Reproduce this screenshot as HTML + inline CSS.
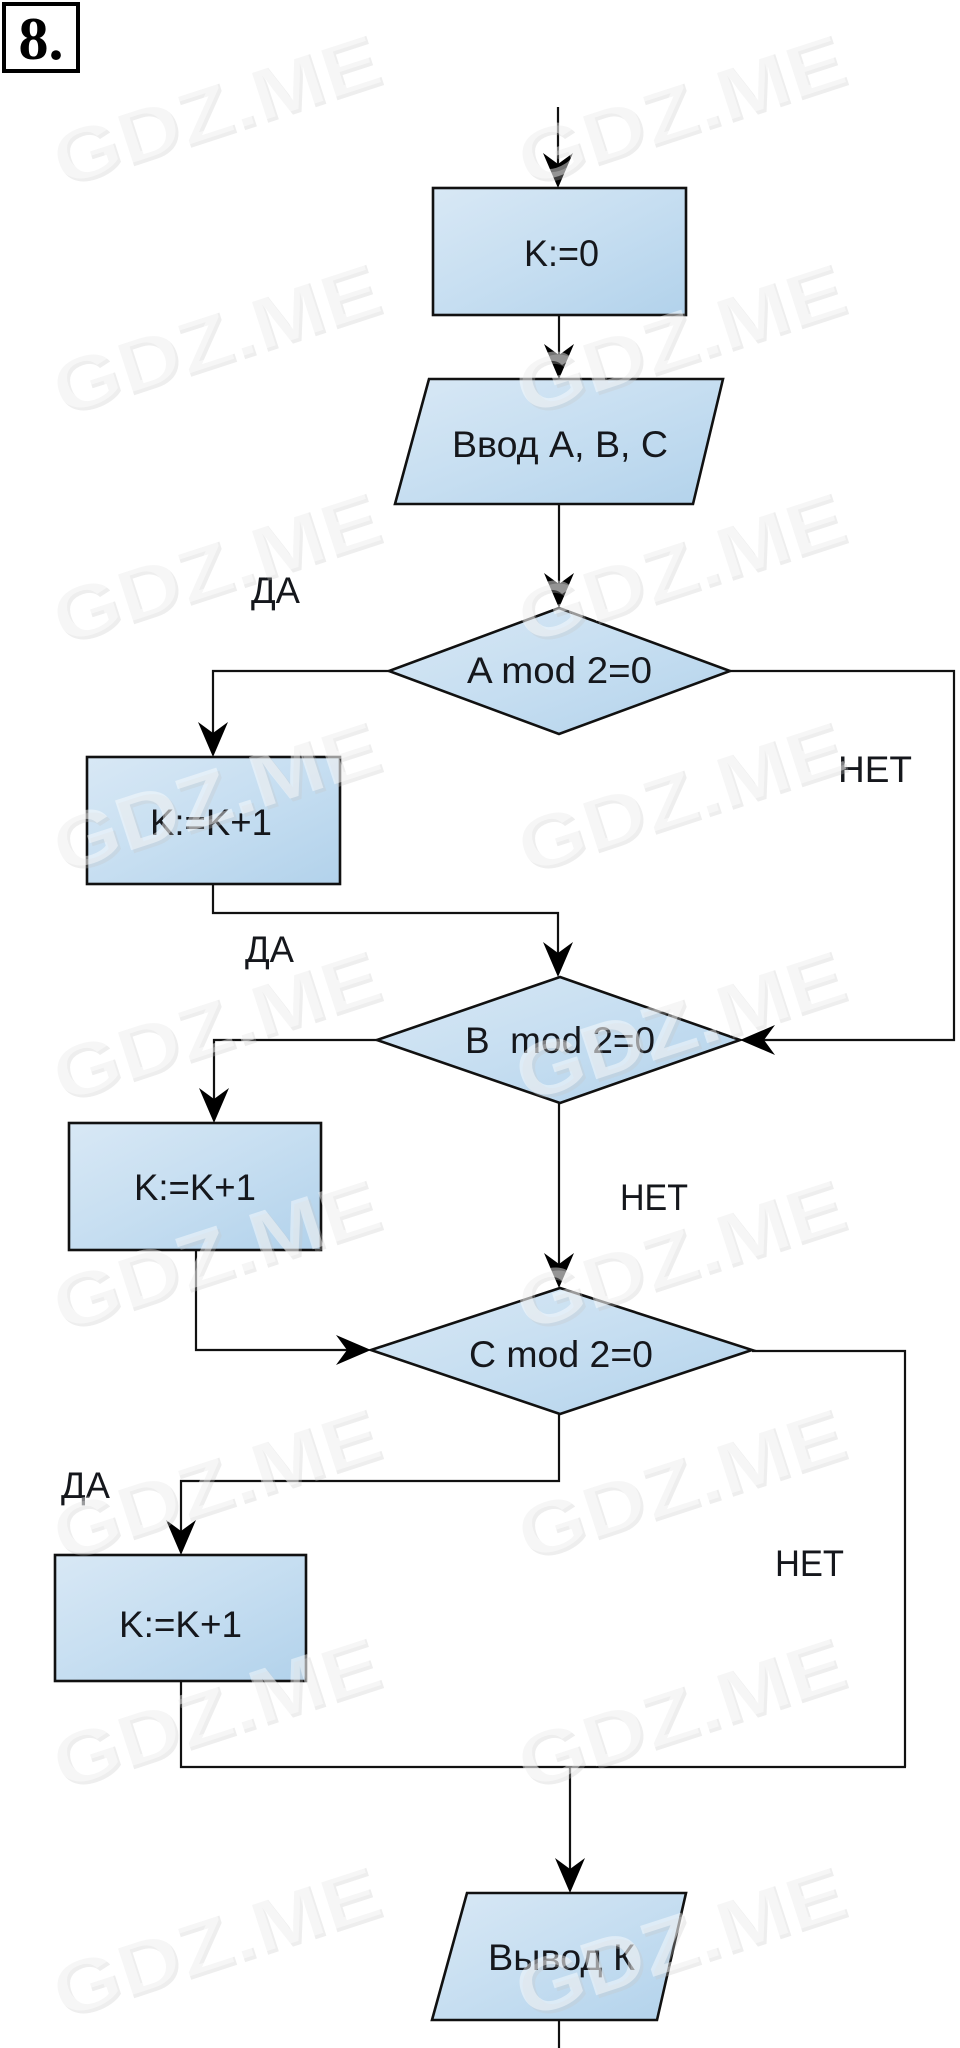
<!DOCTYPE html>
<html>
<head>
<meta charset="utf-8">
<style>
  html,body{margin:0;padding:0;background:#fff;}
  body{width:960px;height:2048px;overflow:hidden;}
  svg{display:block;}
  .t{font-family:"Liberation Sans","DejaVu Sans",sans-serif;fill:#15171c;font-size:37px;}
  .ws{font-family:"Liberation Sans",sans-serif;font-weight:bold;font-size:76px;fill:rgba(200,200,200,0.3);}
  .wm{font-family:"Liberation Sans",sans-serif;font-weight:bold;font-size:76px;fill:rgba(255,255,255,0.45);}
</style>
</head>
<body>
<svg width="960" height="2048" viewBox="0 0 960 2048" xmlns="http://www.w3.org/2000/svg">
  <defs>
    <linearGradient id="g" x1="0" y1="0" x2="1" y2="1">
      <stop offset="0" stop-color="#d8e8f5"/>
      <stop offset="0.5" stop-color="#c6def1"/>
      <stop offset="1" stop-color="#b2d2eb"/>
    </linearGradient>
    <path id="ah" d="M0,0 L-15,-35 L0,-24 L15,-35 Z" fill="#000"/>
    <text id="w" textLength="340" lengthAdjust="spacingAndGlyphs">GDZ.ME</text>
  </defs>

  <rect x="4" y="4" width="74" height="67" fill="#fff" stroke="#000" stroke-width="4"/>
  <text x="41" y="59" text-anchor="middle" font-family="Liberation Serif, serif" font-weight="bold" font-size="60" fill="#000">8.</text>

  <g stroke="#111" stroke-width="2.2" fill="none">
    <line x1="558" y1="107" x2="558" y2="180"/>
    <line x1="559" y1="315" x2="559" y2="370"/>
    <line x1="559" y1="504" x2="559" y2="600"/>
    <polyline points="389,671 213,671 213,748"/>
    <polyline points="730,671 954,671 954,1040 750,1040"/>
    <polyline points="213,884 213,913 558,913 558,968"/>
    <polyline points="377,1040 214,1040 214,1114"/>
    <line x1="559" y1="1103" x2="559" y2="1279"/>
    <polyline points="196,1250 196,1350 362,1350"/>
    <polyline points="752,1351 905,1351 905,1767"/>
    <polyline points="559,1414 559,1481 181,1481 181,1546"/>
    <polyline points="181,1681 181,1767 906,1767"/>
    <line x1="570" y1="1767" x2="570" y2="1884"/>
    <line x1="559" y1="2020" x2="559" y2="2048"/>
  </g>

  <g stroke="#111" stroke-width="2.6" fill="url(#g)">
    <rect x="433" y="188" width="253" height="127"/>
    <polygon points="429,379 723,379 693,504 395,504"/>
    <polygon points="559,608 730,671 559,734 389,671"/>
    <rect x="87" y="757" width="253" height="127"/>
    <polygon points="560,977 740,1040 560,1103 377,1040"/>
    <rect x="69" y="1123" width="252" height="127"/>
    <polygon points="560,1288 752,1350 560,1414 371,1350"/>
    <rect x="55" y="1555" width="251" height="126"/>
    <polygon points="467,1893 686,1893 657,2020 432,2020"/>
  </g>

  <use href="#ah" transform="translate(558,188)"/>
  <use href="#ah" transform="translate(559,379)"/>
  <use href="#ah" transform="translate(559,608)"/>
  <use href="#ah" transform="translate(213,757)"/>
  <use href="#ah" transform="translate(740,1040) rotate(90)"/>
  <use href="#ah" transform="translate(558,977)"/>
  <use href="#ah" transform="translate(214,1123)"/>
  <use href="#ah" transform="translate(559,1288)"/>
  <use href="#ah" transform="translate(371,1350) rotate(-90)"/>
  <use href="#ah" transform="translate(181,1555)"/>
  <use href="#ah" transform="translate(570,1893)"/>

  <text class="t" x="524" y="266" textLength="75" lengthAdjust="spacingAndGlyphs">K:=0</text>
  <text class="t" x="452" y="457" textLength="216" lengthAdjust="spacingAndGlyphs">Ввод A, B, C</text>
  <text class="t" x="467" y="683" textLength="185" lengthAdjust="spacingAndGlyphs">A mod 2=0</text>
  <text class="t" x="150" y="835" textLength="122" lengthAdjust="spacingAndGlyphs">K:=K+1</text>
  <text class="t" x="465" y="1053" textLength="190" lengthAdjust="spacingAndGlyphs" xml:space="preserve">B  mod 2=0</text>
  <text class="t" x="134" y="1200" textLength="122" lengthAdjust="spacingAndGlyphs">K:=K+1</text>
  <text class="t" x="469" y="1367" textLength="184" lengthAdjust="spacingAndGlyphs">C mod 2=0</text>
  <text class="t" x="119" y="1637" textLength="123" lengthAdjust="spacingAndGlyphs">K:=K+1</text>
  <text class="t" x="488" y="1970" textLength="147" lengthAdjust="spacingAndGlyphs">Вывод К</text>

  <text class="t" x="251" y="603" textLength="49" lengthAdjust="spacingAndGlyphs">ДА</text>
  <text class="t" x="838" y="782" textLength="74" lengthAdjust="spacingAndGlyphs">НЕТ</text>
  <text class="t" x="245" y="962" textLength="49" lengthAdjust="spacingAndGlyphs">ДА</text>
  <text class="t" x="620" y="1210" textLength="68" lengthAdjust="spacingAndGlyphs">НЕТ</text>
  <text class="t" x="61" y="1498" textLength="49" lengthAdjust="spacingAndGlyphs">ДА</text>
  <text class="t" x="775" y="1576" textLength="69" lengthAdjust="spacingAndGlyphs">НЕТ</text>

  <g class="ws">
    <use href="#w" transform="translate(64,189) rotate(-18)"/>
    <use href="#w" transform="translate(529,189) rotate(-18)"/>
    <use href="#w" transform="translate(64,418) rotate(-18)"/>
    <use href="#w" transform="translate(529,418) rotate(-18)"/>
    <use href="#w" transform="translate(64,647) rotate(-18)"/>
    <use href="#w" transform="translate(529,647) rotate(-18)"/>
    <use href="#w" transform="translate(64,876) rotate(-18)"/>
    <use href="#w" transform="translate(529,876) rotate(-18)"/>
    <use href="#w" transform="translate(64,1105) rotate(-18)"/>
    <use href="#w" transform="translate(529,1105) rotate(-18)"/>
    <use href="#w" transform="translate(64,1334) rotate(-18)"/>
    <use href="#w" transform="translate(529,1334) rotate(-18)"/>
    <use href="#w" transform="translate(64,1563) rotate(-18)"/>
    <use href="#w" transform="translate(529,1563) rotate(-18)"/>
    <use href="#w" transform="translate(64,1792) rotate(-18)"/>
    <use href="#w" transform="translate(529,1792) rotate(-18)"/>
    <use href="#w" transform="translate(64,2021) rotate(-18)"/>
    <use href="#w" transform="translate(529,2021) rotate(-18)"/>
  </g>
  <g class="wm">
    <use href="#w" transform="translate(61,186) rotate(-18)"/>
    <use href="#w" transform="translate(526,186) rotate(-18)"/>
    <use href="#w" transform="translate(61,415) rotate(-18)"/>
    <use href="#w" transform="translate(526,415) rotate(-18)"/>
    <use href="#w" transform="translate(61,644) rotate(-18)"/>
    <use href="#w" transform="translate(526,644) rotate(-18)"/>
    <use href="#w" transform="translate(61,873) rotate(-18)"/>
    <use href="#w" transform="translate(526,873) rotate(-18)"/>
    <use href="#w" transform="translate(61,1102) rotate(-18)"/>
    <use href="#w" transform="translate(526,1102) rotate(-18)"/>
    <use href="#w" transform="translate(61,1331) rotate(-18)"/>
    <use href="#w" transform="translate(526,1331) rotate(-18)"/>
    <use href="#w" transform="translate(61,1560) rotate(-18)"/>
    <use href="#w" transform="translate(526,1560) rotate(-18)"/>
    <use href="#w" transform="translate(61,1789) rotate(-18)"/>
    <use href="#w" transform="translate(526,1789) rotate(-18)"/>
    <use href="#w" transform="translate(61,2018) rotate(-18)"/>
    <use href="#w" transform="translate(526,2018) rotate(-18)"/>
  </g>
</svg>
</body>
</html>
